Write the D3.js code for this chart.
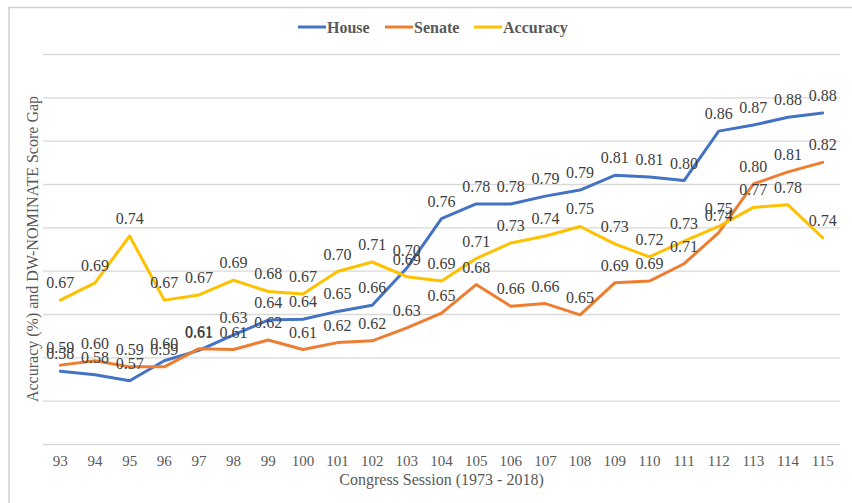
<!DOCTYPE html>
<html>
<head>
<meta charset="utf-8">
<script src="https://cdn.jsdelivr.net/npm/d3@7"></script>
<style>
  body { margin: 0; background: #fff; }
  text { font-family: "Liberation Serif", "Times New Roman", serif; }
</style>
</head>
<body>
<div id="chart"></div>
<script>
// Data
const sessions = ["93", "94", "95", "96", "97", "98", "99", "100", "101", "102", "103", "104",
    "105", "106", "107", "108", "109", "110", "111", "112", "113", "114", "115"];

const house = [0.584, 0.580, 0.573, 0.596, 0.608, 0.626, 0.643, 0.644, 0.653, 0.660, 0.703, 0.760,
    0.777, 0.777, 0.786, 0.793, 0.810, 0.808, 0.804, 0.861, 0.868, 0.877, 0.882];

const senate = [0.591, 0.596, 0.589, 0.589, 0.610, 0.609, 0.620, 0.609, 0.617, 0.619, 0.634, 0.651,
    0.684, 0.659, 0.662, 0.649, 0.686, 0.688, 0.708, 0.744, 0.800, 0.814, 0.825];

const accuracy = [0.666, 0.686, 0.740, 0.666, 0.672, 0.689, 0.676, 0.673, 0.699, 0.710, 0.693, 0.688,
    0.714, 0.732, 0.740, 0.751, 0.731, 0.716, 0.734, 0.751, 0.773, 0.776, 0.738];

const gridValues = [0.50, 0.55, 0.60, 0.65, 0.70, 0.75, 0.80, 0.85, 0.90, 0.95];

const seriesNames = ["House", "Senate", "Accuracy"];
const seriesColors = ["#4472C4", "#ED7D31", "#FFC000"];

const series = [house, senate, accuracy].map((values, i) => ({
    name: seriesNames[i],
    color: seriesColors[i],
    values: values
}));

const serif = "Liberation Serif, Times New Roman, serif";
const width = 852, height = 503;
const margin = { top: 54, right: 12, bottom: 59, left: 43 };

const svg = d3.select("#chart")
    .append("svg")
    .attr("width", width)
    .attr("height", height)
    .attr("font-family", serif);

// Chart area border (cropped at right and bottom)
svg.append("path")
    .attr("d", "M9,503 L9,7.5 L852,7.5")
    .attr("fill", "none")
    .attr("stroke", "#d0d0d0")
    .attr("stroke-width", 1.5);

const x = d3.scaleBand()
    .domain(sessions)
    .range([margin.left, width - margin.right]);

const y = d3.scaleLinear()
    .domain([0.5, 0.95])
    .range([height - margin.bottom, margin.top]);

// Gridlines
svg.append("g")
    .attr("transform", `translate(${margin.left},0)`)
    .call(d3.axisLeft(y)
        .tickValues(gridValues)
        .tickSize(-(width - margin.right - margin.left))
        .tickFormat(""))
    .call(g => g.select(".domain").remove())
    .call(g => g.selectAll("line")
        .attr("stroke", "#d9d9d9")
        .attr("stroke-width", 1.3));

// X axis labels
svg.append("g")
    .attr("transform", `translate(0,${height - margin.bottom})`)
    .call(d3.axisBottom(x).tickSize(0).tickPadding(11))
    .attr("font-family", serif)
    .attr("font-size", 15)
    .call(g => g.select(".domain").remove())
    .call(g => g.selectAll("text")
        .attr("fill", "#595959"));

// Axis titles
svg.append("text")
    .attr("x", (margin.left + width - margin.right) / 2)
    .attr("y", 485)
    .attr("text-anchor", "middle")
    .attr("font-size", 16)
    .attr("fill", "#595959")
    .text("Congress Session (1973 - 2018)");

svg.append("text")
    .attr("transform", `translate(38,${(y(0.5) + y(0.95)) / 2}) rotate(-90)`)
    .attr("text-anchor", "middle")
    .attr("font-size", 16)
    .attr("fill", "#595959")
    .text("Accuracy (%) and DW-NOMINATE Score Gap");

// Create the lines
const line = d3.line()
    .x((d, i) => x(sessions[i]) + x.bandwidth() / 2)
    .y((d) => y(d));

svg.selectAll(".series")
    .data(series)
    .enter()
    .append("path")
    .attr("class", "series")
    .attr("d", (d) => line(d.values))
    .attr("fill", "none")
    .attr("stroke", (d) => d.color)
    .attr("stroke-width", 3)
    .attr("stroke-linejoin", "round")
    .attr("stroke-linecap", "round");

// Create the data labels
const fmt = d3.format(".2f");
series.forEach(function (s) {
    svg.append("g")
        .selectAll("text")
        .data(s.values)
        .enter()
        .append("text")
        .attr("x", (d, i) => x(sessions[i]) + x.bandwidth() / 2)
        .attr("y", (d) => y(d) - 12)
        .attr("text-anchor", "middle")
        .attr("font-size", 16)
        .attr("fill", "#404040")
        .text((d) => fmt(d));
});

// Legend
const legendX = [298, 385, 474];
const legend = svg.append("g")
    .selectAll("g")
    .data(series)
    .enter()
    .append("g")
    .attr("transform", (d, i) => `translate(${legendX[i]},27)`);

legend.append("line")
    .attr("x1", 0)
    .attr("x2", 28)
    .attr("stroke", (d) => d.color)
    .attr("stroke-width", 3);

legend.append("text")
    .attr("x", 29)
    .attr("y", 5.5)
    .attr("font-size", 16)
    .attr("font-weight", "bold")
    .attr("fill", "#595959")
    .text((d) => d.name);
</script>
</body>
</html>
